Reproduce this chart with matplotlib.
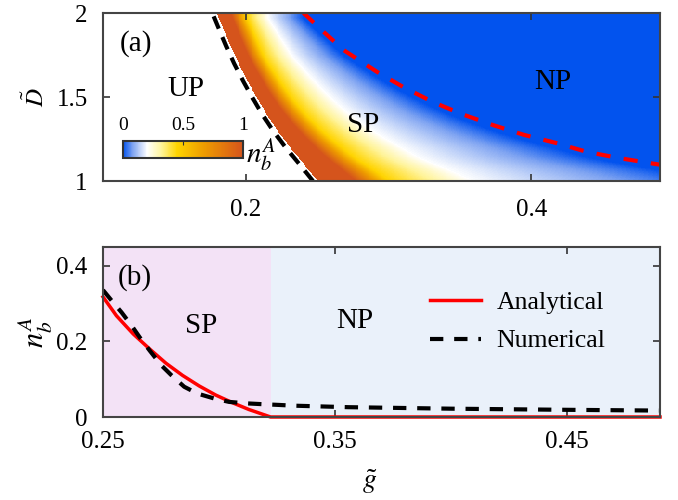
import numpy as np
import matplotlib
matplotlib.use("Agg")
import matplotlib.pyplot as plt
from matplotlib.colors import LinearSegmentedColormap, Normalize
from matplotlib.colorbar import ColorbarBase

plt.rcParams['font.family'] = 'serif'
plt.rcParams['font.serif'] = ['Liberation Serif', 'DejaVu Serif']
plt.rcParams['mathtext.fontset'] = 'stix'

# ---------------- data ----------------
# (a) UP/SP boundary (black dashed)
d_black = [1.0, 1.1, 1.2, 1.3, 1.4, 1.5, 1.6, 1.7, 1.8, 1.9, 2.0]
g_black = [0.247, 0.2375, 0.2278, 0.2190, 0.2112, 0.2043, 0.1978, 0.1918, 0.1864, 0.1814, 0.1765]

# (a) SP/NP boundary (red dashed), last point lies outside the axes
g_red = [0.2404, 0.2523, 0.2683, 0.292, 0.3101, 0.331, 0.351, 0.373, 0.395, 0.4174, 0.439, 0.461, 0.4826, 0.49, 0.545]
d_red = [2.0, 1.905, 1.78, 1.649, 1.56, 1.47, 1.399, 1.333, 1.274, 1.226, 1.173, 1.137, 1.107, 1.097, 1.0]

# (a) where the colour levels of n_b^A sit, as a fraction of the way
# from the UP edge to the blue (n = 0) edge, at a few D
d_lev = [1.0, 1.25, 1.5, 1.75, 2.0]
f_full = [0.095, 0.097, 0.10, 0.12, 0.166]    # n = 1 (end of dark band)
f_yellow = [0.18, 0.20, 0.22, 0.26, 0.34]     # n = 0.45
f_white = [0.39, 0.43, 0.47, 0.52, 0.59]      # n = 0.2
lev_vals = [1.0, 1.0, 0.45, 0.2, 0.0]

# (b) n_b^A vs g
g_ana = [0.25, 0.2558, 0.2630, 0.2701, 0.2772, 0.2843, 0.2915, 0.2986, 0.3057, 0.3128, 0.3222, 0.49]
n_ana = [0.318, 0.268, 0.220, 0.180, 0.142, 0.110, 0.082, 0.058, 0.038, 0.020, 0.0, 0.0]
g_num = [0.25, 0.2544, 0.2580, 0.2623, 0.2658, 0.2701, 0.2751, 0.2794, 0.2850, 0.2907, 0.2979,
         0.3043, 0.3121, 0.3185, 0.3256, 0.3321, 0.3556, 0.40, 0.45, 0.49]
n_num = [0.336, 0.303, 0.277, 0.242, 0.211, 0.176, 0.137, 0.111, 0.080, 0.062, 0.049,
         0.040, 0.036, 0.034, 0.032, 0.030, 0.026, 0.022, 0.019, 0.017]
g_crit = 0.3225

# ---------------- colormap ----------------
cmap = LinearSegmentedColormap.from_list("nb", [
    (0.0, "#0253EE"), (0.08, "#7FA4F2"), (0.2, "#FFFFFF"), (0.32, "#FFF49A"),
    (0.45, "#FFD400"), (0.68, "#EE9B00"), (1.0, "#D5541C")])
cmap.set_bad("white")

# build the field row by row
gg = np.linspace(0.1, 0.49, 600)
dd = np.linspace(1.0, 2.0, 400)
field = np.full((len(dd), len(gg)), np.nan)
d_red_up = d_red[::-1]
g_red_up = g_red[::-1]
for i, d in enumerate(dd):
    g0 = np.interp(d, d_black, g_black) + 0.003
    gz = np.interp(d + 0.03, d_red_up, g_red_up)
    fr = [np.interp(d, d_lev, f) for f in (f_full, f_yellow, f_white)]
    edges = [g0] + [g0 + f * (gz - g0) for f in fr] + [gz]
    row = np.interp(gg, edges, lev_vals)
    row[gg < g0] = np.nan
    field[i] = row

fig = plt.figure(figsize=(6.78, 5.0), dpi=100)
ax1 = fig.add_axes([103 / 678, 1 - 181 / 500, 557 / 678, 168 / 500])
ax2 = fig.add_axes([103 / 678, 1 - 417 / 500, 557 / 678, 170 / 500])

# ---------------- panel (a) ----------------
ax1.imshow(field, extent=[0.1, 0.49, 1.0, 2.0], origin='lower', aspect='auto',
           cmap=cmap, vmin=0, vmax=1, interpolation='nearest')
ax1.plot(g_black, d_black, color='black', lw=3, ls=(0, (3.2, 2.2)))
ax1.plot(g_red, d_red, color='#FF0000', lw=3, ls=(0, (3.4, 3.2)))
ax1.set_xlim(0.1, 0.49)
ax1.set_ylim(1, 2)
ax1.set_xticks([0.2, 0.4])
ax1.set_xticklabels(['0.2', '0.4'])
ax1.set_yticks([1, 1.5, 2])
ax1.set_yticklabels(['1', '1.5', '2'])
ax1.set_ylabel(r'$\tilde{D}$', fontsize=18, va='center')
ax1.yaxis.set_label_coords(-0.12, 0.5)

ax1.text(0.1233, 1.82, '(a)', fontsize=21, ha='center', va='center')
ax1.text(0.158, 1.55, 'UP', fontsize=21, ha='center', va='center')
ax1.text(0.2822, 1.333, 'SP', fontsize=21, ha='center', va='center')
ax1.text(0.4146, 1.59, 'NP', fontsize=21, ha='center', va='center')

# inset colorbar
cax = fig.add_axes([123 / 678, 1 - 158 / 500, 120 / 678, 17 / 500])
cb = ColorbarBase(cax, cmap=cmap, norm=Normalize(0, 1), orientation='horizontal', ticks=[0, 0.5, 1])
cb.ax.xaxis.set_ticks_position('top')
cb.ax.set_xticklabels(['0', '0.5', '1'])
cb.ax.tick_params(direction='in', length=3, labelsize=14, pad=5, color='#333333')
cb.outline.set_linewidth(1.5)
cb.outline.set_edgecolor('#333333')
fig.text(246 / 678, 1 - 155 / 500, r'$n_b^A$', fontsize=21, ha='left', va='center')

# ---------------- panel (b) ----------------
ax2.axvspan(0.25, g_crit, color='#F3E2F6', lw=0)
ax2.axvspan(g_crit, 0.49, color='#EAF1FA', lw=0)
ax2.plot(g_ana, n_ana, color='#FF0000', lw=2.5, label='Analytical', clip_on=False)
ax2.plot(g_num, n_num, color='black', lw=3, ls=(0, (3.2, 2.6)), label='Numerical')
ax2.set_xlim(0.25, 0.49)
ax2.set_ylim(0, 0.45)
ax2.set_xticks([0.25, 0.35, 0.45])
ax2.set_xticklabels(['0.25', '0.35', '0.45'])
ax2.set_yticks([0, 0.2, 0.4])
ax2.set_yticklabels(['0', '0.2', '0.4'])
ax2.set_xlabel(r'$\tilde{g}$', fontsize=20, va='center')
ax2.xaxis.set_label_coords(0.479, -0.38)
ax2.set_ylabel(r'$n_b^A$', fontsize=22, va='center')
ax2.yaxis.set_label_coords(-0.12, 0.5)

ax2.text(0.2637, 0.368, '(b)', fontsize=21, ha='center', va='center')
ax2.text(0.2923, 0.242, 'SP', fontsize=21, ha='center', va='center')
ax2.text(0.3585, 0.255, 'NP', fontsize=21, ha='center', va='center')

ax2.legend(loc='center left', bbox_to_anchor=(0.587, 0.56), frameon=False, fontsize=18.5,
           borderpad=0, borderaxespad=0, handlelength=2.0, handletextpad=0.6, labelspacing=0.6)

for ax in (ax1, ax2):
    ax.tick_params(direction='in', top=True, right=True, length=5, width=1.2,
                   labelsize=18, color='#333333')
    ax.tick_params(axis='y', pad=11)
    for s in ax.spines.values():
        s.set_linewidth(1.5)
        s.set_edgecolor('#444444')
        s.set_zorder(5)
ax1.tick_params(axis='x', pad=13)
ax2.tick_params(axis='x', pad=10)

fig.savefig("out.png", dpi=100)
